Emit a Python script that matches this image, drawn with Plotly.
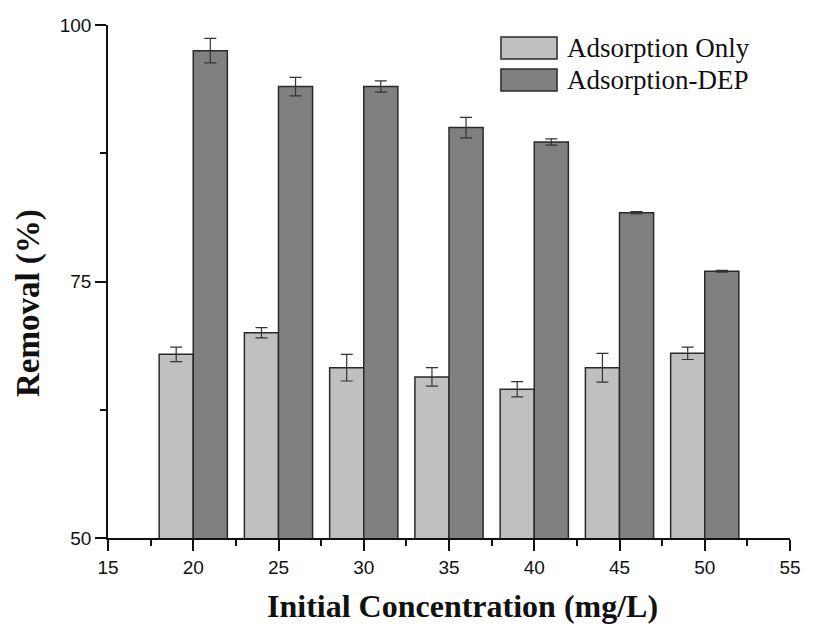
import plotly.graph_objects as go

concentration = [20, 25, 30, 35, 40, 45, 50]
ads_only = [67.9, 70.0, 66.6, 65.7, 64.5, 66.6, 68.0]
ads_only_err = [0.7, 0.5, 1.3, 0.9, 0.75, 1.4, 0.6]
ads_dep = [97.5, 94.0, 94.0, 90.0, 88.6, 81.7, 76.0]
ads_dep_err = [1.2, 0.9, 0.55, 1.0, 0.3, 0.12, 0.08]
series_names = ["Adsorption Only", "Adsorption-DEP"]
series_colors = ["#c0c0c0", "#808080"]
x_title = "Initial Concentration (mg/L)"
y_title = "Removal (%)"
outline = "#2a2a2a"

fig = go.Figure()
for name, vals, errs, col in [(series_names[0], ads_only, ads_only_err, series_colors[0]),
                              (series_names[1], ads_dep, ads_dep_err, series_colors[1])]:
    fig.add_trace(go.Bar(
        x=concentration, y=vals, name=name, showlegend=False,
        marker=dict(color=col, line=dict(color=outline, width=1.5)),
        error_y=dict(type="data", array=errs, color="#333333", thickness=1.2, width=6),
    ))

# custom legend with large swatches (as in the original)
leg_x0, leg_x1, leg_tx = 0.5762, 0.6584, 0.670
leg_rows = [(0.9766, 0.9337), (0.9142, 0.8713)]
for (y1, y0), name, col in zip(leg_rows, series_names, series_colors):
    fig.add_shape(type="rect", xref="paper", yref="paper", x0=leg_x0, x1=leg_x1, y0=y0, y1=y1,
                  fillcolor=col, line=dict(color=outline, width=1.5))
    fig.add_annotation(xref="paper", yref="paper", x=leg_tx, y=(y0 + y1) / 2, text=name,
                       showarrow=False, xanchor="left", yanchor="middle",
                       font=dict(family="Liberation Serif", size=27, color="#111"))

# axis titles
fig.add_annotation(xref="paper", yref="paper", x=0.5205, y=-0.1326, text="<b>" + x_title + "</b>",
                   showarrow=False, xanchor="center", yanchor="middle",
                   font=dict(family="Liberation Serif", size=32, color="#111"))
fig.add_annotation(xref="paper", yref="paper", x=-0.1173, y=0.458, text="<b>" + y_title + "</b>",
                   showarrow=False, xanchor="center", yanchor="middle", textangle=-90,
                   font=dict(family="Liberation Serif", size=33, color="#111"))

fig.update_layout(
    width=816, height=626,
    margin=dict(l=108, r=26, t=25, b=88),
    paper_bgcolor="white", plot_bgcolor="white",
    barmode="group", bargap=0.2, bargroupgap=0,
    showlegend=False,
    font=dict(family="Liberation Sans", color="#111"),
)
fig.update_xaxes(
    range=[15, 55], tickmode="linear", tick0=15, dtick=5, automargin=False,
    showline=True, linecolor="#111", linewidth=1.5, showgrid=False, zeroline=False,
    ticks="outside", ticklen=11, tickwidth=1.5, tickcolor="#111",
    tickfont=dict(family="Liberation Sans", size=19, color="#111"),
    minor=dict(ticks="outside", ticklen=6, tickwidth=1.5, tickcolor="#111", dtick=2.5, tick0=15, showgrid=False),
)
fig.update_yaxes(
    range=[50, 100], tickmode="linear", tick0=50, dtick=25, automargin=False,
    showline=True, linecolor="#111", linewidth=1.5, showgrid=False, zeroline=False,
    ticks="outside", ticklen=11, tickwidth=1.5, tickcolor="#111",
    tickfont=dict(family="Liberation Sans", size=19, color="#111"),
    minor=dict(ticks="outside", ticklen=6, tickwidth=1.5, tickcolor="#111", dtick=12.5, tick0=50, showgrid=False),
)

fig.write_html("out.html")
